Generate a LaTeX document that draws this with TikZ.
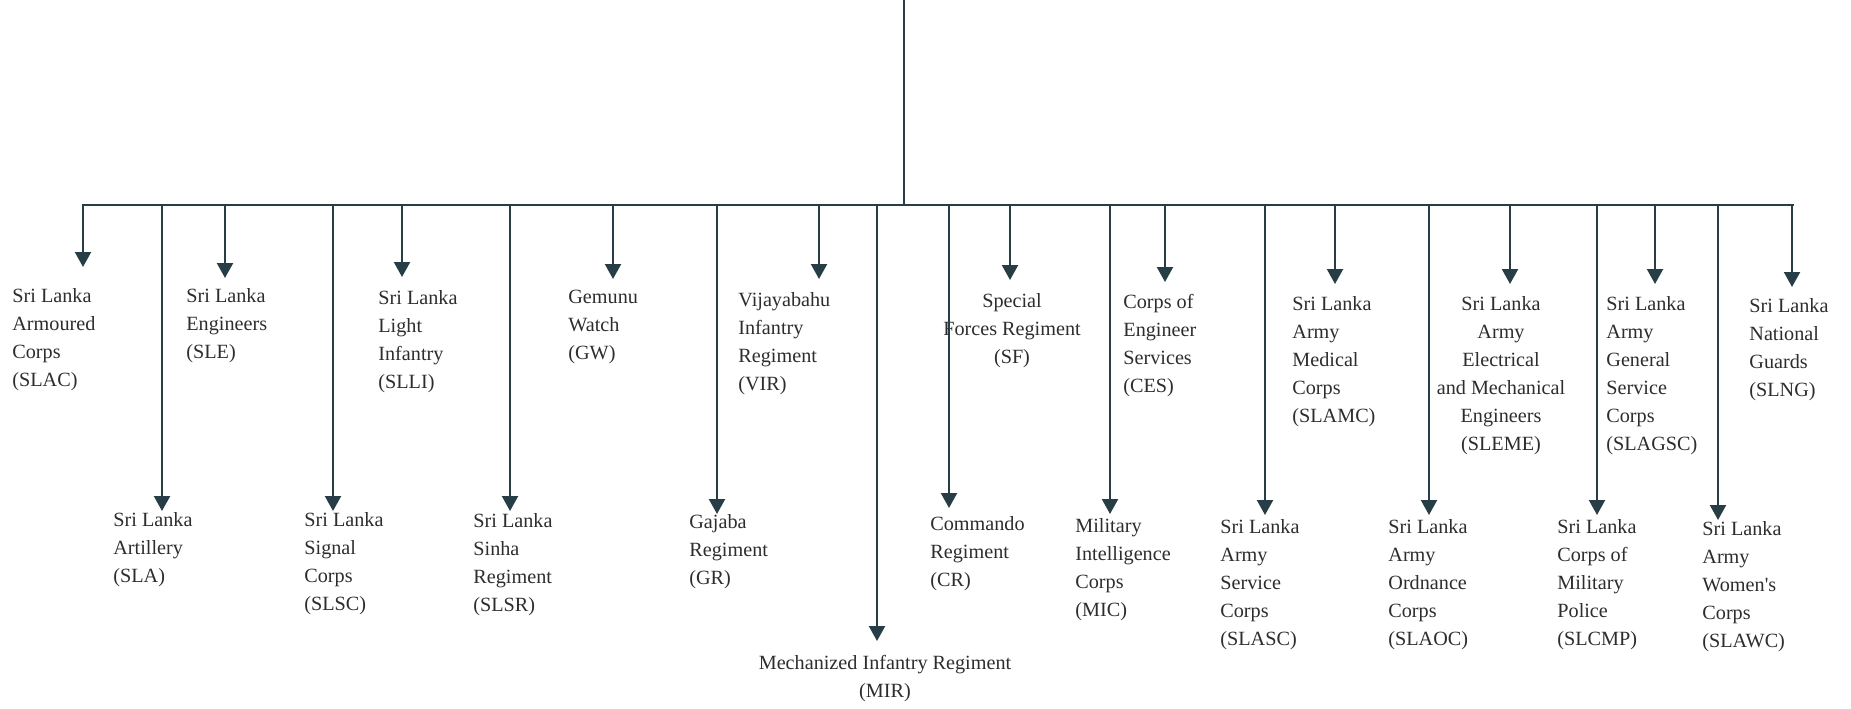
\documentclass[tikz,border=0pt]{standalone}
\usepackage{fontspec}
\setmainfont{Liberation Serif}
\usepackage{tikz}
\usetikzlibrary{arrows.meta}
\definecolor{lineclr}{RGB}{40,62,70}
\definecolor{txtclr}{RGB}{45,45,45}

\begin{document}
\begin{tikzpicture}[x=0.5pt,y=-0.5pt,
	unit/.style={align=left,anchor=north west,inner sep=0pt,text=txtclr,
		font=\fontsize{10.1}{14}\selectfont,execute at begin node=\strut},
	unitc/.style={unit,align=center,anchor=north},
	arr/.style={draw=lineclr,line width=1.1pt,-{Triangle[length=7.5pt,width=8pt]}},
	ln/.style={draw=lineclr,line width=1.2pt}]
	
	\useasboundingbox (0,0) rectangle (1851,708);
	
	% trunk and bar
	\coordinate (top) at (904,0);
	\coordinate (hub) at (904,205);
	\coordinate (barL) at (82,205);
	\coordinate (barR) at (1794,205);
	\draw[ln] (top) -- (hub);
	\draw[ln] (barL) -- (barR);
	
	% upper row
	\node[unit] (slac) at (12,288)    {Sri Lanka\\Armoured\\Corps\\(SLAC)};
	\node[unit] (sle) at (186,288)    {Sri Lanka\\Engineers\\(SLE)};
	\node[unit] (slli) at (378,290)   {Sri Lanka\\Light\\Infantry\\(SLLI)};
	\node[unit] (gw) at (568,290)     {Gemunu\\Watch\\(GW)};
	\node[unit] (vir) at (738,292)    {Vijayabahu\\Infantry\\Regiment\\(VIR)};
	\node[unitc] (sf) at (1012,293)   {Special\\Forces Regiment\\(SF)};
	\node[unit] (ces) at (1123,294)   {Corps of\\Engineer\\Services\\(CES)};
	\node[unit] (slamc) at (1292,296) {Sri Lanka\\Army\\Medical\\Corps\\(SLAMC)};
	\node[unitc] (sleme) at (1501,296) {Sri Lanka\\Army\\Electrical\\and Mechanical\\Engineers\\(SLEME)};
	\node[unit] (slagsc) at (1606,296) {Sri Lanka\\Army\\General\\Service\\Corps\\(SLAGSC)};
	\node[unit] (slng) at (1749,298)  {Sri Lanka\\National\\Guards\\(SLNG)};
	
	% lower row
	\node[unit] (sla) at (113,512)    {Sri Lanka\\Artillery\\(SLA)};
	\node[unit] (slsc) at (304,512)   {Sri Lanka\\Signal\\Corps\\(SLSC)};
	\node[unit] (slsr) at (473,513)   {Sri Lanka\\Sinha\\Regiment\\(SLSR)};
	\node[unit] (gr) at (689,514)     {Gajaba\\Regiment\\(GR)};
	\node[unitc] (mir) at (885,655)   {Mechanized Infantry Regiment\\(MIR)};
	\node[unit] (cr) at (930,516)     {Commando\\Regiment\\(CR)};
	\node[unit] (mic) at (1075,518)   {Military\\Intelligence\\Corps\\(MIC)};
	\node[unit] (slasc) at (1220,519) {Sri Lanka\\Army\\Service\\Corps\\(SLASC)};
	\node[unit] (slaoc) at (1388,519) {Sri Lanka\\Army\\Ordnance\\Corps\\(SLAOC)};
	\node[unit] (slcmp) at (1557,519) {Sri Lanka\\Corps of\\Military\\Police\\(SLCMP)};
	\node[unit] (slawc) at (1702,521) {Sri Lanka\\Army\\Women\textquotesingle s\\Corps\\(SLAWC)};
	
	% arrow tips
	\coordinate (t-slac) at (83,267);
	\coordinate (t-sla) at (162,511);
	\coordinate (t-sle) at (225,278);
	\coordinate (t-slsc) at (333,511);
	\coordinate (t-slli) at (402,277);
	\coordinate (t-slsr) at (510,511);
	\coordinate (t-gw) at (613,279);
	\coordinate (t-gr) at (717,514);
	\coordinate (t-vir) at (819,279);
	\coordinate (t-mir) at (877,641);
	\coordinate (t-cr) at (949,508);
	\coordinate (t-sf) at (1010,280);
	\coordinate (t-mic) at (1110,514);
	\coordinate (t-ces) at (1165,282);
	\coordinate (t-slasc) at (1265,515);
	\coordinate (t-slamc) at (1335,284);
	\coordinate (t-slaoc) at (1429,515);
	\coordinate (t-sleme) at (1510,284);
	\coordinate (t-slcmp) at (1597,515);
	\coordinate (t-slagsc) at (1655,284);
	\coordinate (t-slawc) at (1718,520);
	\coordinate (t-slng) at (1792,287);
	
	\foreach \u in {slac,sla,sle,slsc,slli,slsr,gw,gr,vir,mir,cr,sf,mic,ces,
		slasc,slamc,slaoc,sleme,slcmp,slagsc,slawc,slng}
		\draw[arr] (hub -| t-\u) -- (t-\u);
	
\end{tikzpicture}
\end{document}
